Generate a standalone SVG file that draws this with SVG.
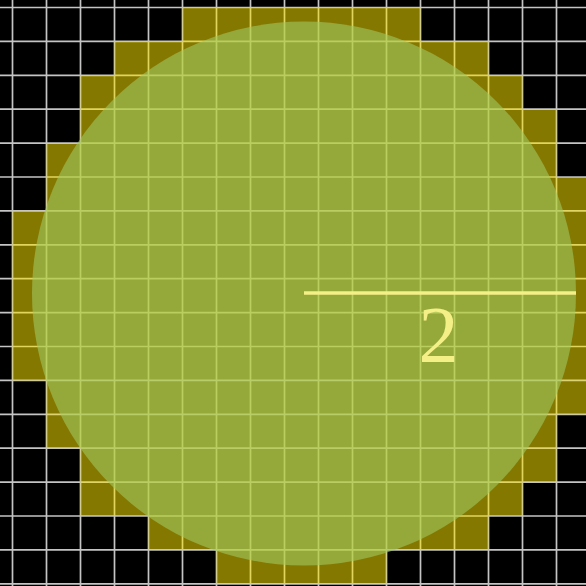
<svg xmlns="http://www.w3.org/2000/svg" width="586" height="586" viewBox="0 0 586 586">
  <style>
    .grid line { stroke: #c4c4c4; stroke-width: 1.7; }
    .cells rect { fill: #ffe600; }
    .label { font-family: "Liberation Serif", "DejaVu Serif", serif; font-size: 80px; fill: #f5ef88; text-anchor: middle; }
  </style>
  <rect id="background" x="0" y="0" width="586" height="586" fill="#000000"/>
  <g id="grid" class="grid">
    <line x1="12.5" y1="0" x2="12.5" y2="586"/>
    <line x1="46.5" y1="0" x2="46.5" y2="586"/>
    <line x1="80.5" y1="0" x2="80.5" y2="586"/>
    <line x1="114.5" y1="0" x2="114.5" y2="586"/>
    <line x1="148.5" y1="0" x2="148.5" y2="586"/>
    <line x1="182.5" y1="0" x2="182.5" y2="586"/>
    <line x1="216.5" y1="0" x2="216.5" y2="586"/>
    <line x1="250.5" y1="0" x2="250.5" y2="586"/>
    <line x1="284.5" y1="0" x2="284.5" y2="586"/>
    <line x1="318.5" y1="0" x2="318.5" y2="586"/>
    <line x1="352.5" y1="0" x2="352.5" y2="586"/>
    <line x1="386.5" y1="0" x2="386.5" y2="586"/>
    <line x1="420.5" y1="0" x2="420.5" y2="586"/>
    <line x1="454.5" y1="0" x2="454.5" y2="586"/>
    <line x1="488.5" y1="0" x2="488.5" y2="586"/>
    <line x1="522.5" y1="0" x2="522.5" y2="586"/>
    <line x1="556.5" y1="0" x2="556.5" y2="586"/>
    <line x1="0" y1="7.5" x2="586" y2="7.5"/>
    <line x1="0" y1="41.4" x2="586" y2="41.4"/>
    <line x1="0" y1="75.3" x2="586" y2="75.3"/>
    <line x1="0" y1="109.2" x2="586" y2="109.2"/>
    <line x1="0" y1="143.1" x2="586" y2="143.1"/>
    <line x1="0" y1="177" x2="586" y2="177"/>
    <line x1="0" y1="210.9" x2="586" y2="210.9"/>
    <line x1="0" y1="244.8" x2="586" y2="244.8"/>
    <line x1="0" y1="278.7" x2="586" y2="278.7"/>
    <line x1="0" y1="312.6" x2="586" y2="312.6"/>
    <line x1="0" y1="346.5" x2="586" y2="346.5"/>
    <line x1="0" y1="380.4" x2="586" y2="380.4"/>
    <line x1="0" y1="414.3" x2="586" y2="414.3"/>
    <line x1="0" y1="448.2" x2="586" y2="448.2"/>
    <line x1="0" y1="482.1" x2="586" y2="482.1"/>
    <line x1="0" y1="516" x2="586" y2="516"/>
    <line x1="0" y1="549.9" x2="586" y2="549.9"/>
    <line x1="0" y1="583.8" x2="586" y2="583.8"/>
  </g>
  <g id="cells" class="cells" opacity="0.52">
    <rect x="182.5" y="7.5" width="238" height="33.9"/>
    <rect x="114.5" y="41.4" width="374" height="33.9"/>
    <rect x="80.5" y="75.3" width="442" height="33.9"/>
    <rect x="80.5" y="109.2" width="476" height="33.9"/>
    <rect x="46.5" y="143.1" width="510" height="33.9"/>
    <rect x="46.5" y="177" width="539.5" height="33.9"/>
    <rect x="12.5" y="210.9" width="573.5" height="169.5"/>
    <rect x="46.5" y="380.4" width="539.5" height="33.9"/>
    <rect x="46.5" y="414.3" width="510" height="33.9"/>
    <rect x="80.5" y="448.2" width="476" height="33.9"/>
    <rect x="80.5" y="482.1" width="442" height="33.9"/>
    <rect x="148.5" y="516" width="340" height="33.9"/>
    <rect x="216.5" y="549.9" width="170" height="33.9"/>
  </g>
  <g id="circle">
    <circle cx="304" cy="293.5" r="272" fill="#a0c861" fill-opacity="0.6"/>
  </g>
  <g id="radius">
    <line x1="304" y1="293" x2="576" y2="293" stroke="#f5ef88" stroke-width="3.5"/>
    <text class="label" x="438.5" y="362">2</text>
  </g>
</svg>
